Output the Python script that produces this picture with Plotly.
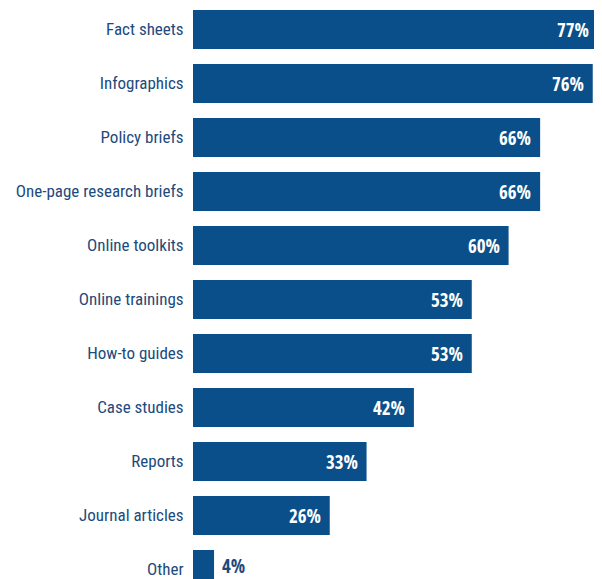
import plotly.graph_objects as go

categories = ["Fact sheets", "Infographics", "Policy briefs", "One-page research briefs",
              "Online toolkits", "Online trainings", "How-to guides", "Case studies",
              "Reports", "Journal articles", "Other"]
values = [77, 76, 66, 66, 60, 53, 53, 42, 33, 26, 4]
value_labels = [f"{v}%" for v in values]

BAR = "#0b4f8a"
TXT = "#1d4a7c"
LABEL_FONT = "Roboto Condensed, sans-serif"
VALUE_FONT = "Open Sans Condensed, Roboto Condensed, sans-serif"

fig = go.Figure(go.Bar(
    x=values, y=categories, orientation="h",
    marker=dict(color=BAR, line=dict(width=0)),
    hoverinfo="skip",
))

for c, v, t in zip(categories, values, value_labels):
    inside = v >= 10
    fig.add_annotation(
        x=v, y=c, text=f"<b>{t}</b>", showarrow=False,
        xanchor="right" if inside else "left",
        xshift=-7 if inside else 6,
        yshift=0 if inside else 4,
        font=dict(family=VALUE_FONT, size=19, color="white" if inside else TXT),
    )

# page body has an 8px margin: compensate so marks land where the reference has them
top_idx = -21.5 / 54
fig.update_layout(
    width=602, height=579,
    margin=dict(l=185, r=12, t=0, b=0),
    paper_bgcolor="white", plot_bgcolor="white",
    bargap=0.278,
    showlegend=False,
    font=dict(family=LABEL_FONT, size=17, color=TXT),
    xaxis=dict(range=[0, 77], visible=False, fixedrange=True),
    yaxis=dict(
        categoryorder="array", categoryarray=categories,
        range=[top_idx + 579 / 54, top_idx],
        automargin=False,
        showgrid=False, zeroline=False, showline=False,
        ticks="outside", ticklen=5, tickcolor="rgba(0,0,0,0)",
        tickfont=dict(family=LABEL_FONT, size=17, color=TXT),
    ),
)

fig.write_html("out.html")
